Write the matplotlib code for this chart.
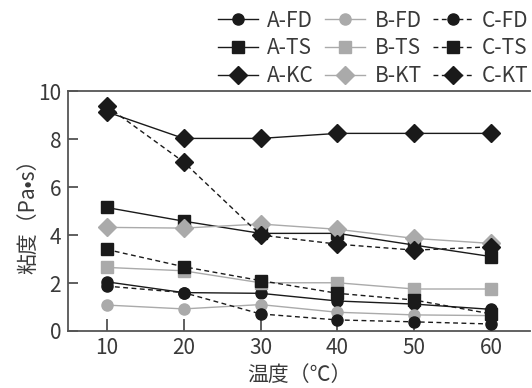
import matplotlib
matplotlib.use("Agg")
import matplotlib.pyplot as plt

plt.rcParams['font.family'] = ['Noto Sans CJK JP', 'DejaVu Sans']

temps = [10, 20, 30, 40, 50, 60]

A_FD = [2.05, 1.60, 1.57, 1.25, 1.12, 0.90]
B_FD = [1.08, 0.92, 1.10, 0.78, 0.67, 0.64]
C_FD = [1.87, 1.60, 0.71, 0.46, 0.38, 0.29]
A_TS = [5.15, 4.58, 4.07, 4.07, 3.58, 3.10]
B_TS = [2.65, 2.51, 2.01, 2.01, 1.75, 1.75]
C_TS = [3.40, 2.68, 2.10, 1.57, 1.29, 0.71]
A_KC = [9.14, 8.03, 8.03, 8.24, 8.24, 8.24]
B_KT = [4.32, 4.29, 4.46, 4.24, 3.86, 3.65]
C_KT = [9.38, 7.05, 4.00, 3.62, 3.37, 3.51]

yticks = [0, 2, 4, 6, 8, 10]
xticks = [10, 20, 30, 40, 50, 60]

BLACK = '#1a1a1a'
GRAY = '#aaaaaa'
TXT = '#3a3a3a'
DASH = (0, (3.5, 2.5))

fig = plt.figure(figsize=(5.32, 3.88), dpi=100)
ax = fig.add_axes([0.128, 0.147, 0.868, 0.618])

series = [
    ('A-FD', A_FD, BLACK, '-', 'o', 8),
    ('A-TS', A_TS, BLACK, '-', 's', 8),
    ('A-KC', A_KC, BLACK, '-', 'D', 9),
    ('B-FD', B_FD, GRAY, '-', 'o', 8),
    ('B-TS', B_TS, GRAY, '-', 's', 8),
    ('B-KT', B_KT, GRAY, '-', 'D', 9),
    ('C-FD', C_FD, BLACK, DASH, 'o', 8),
    ('C-TS', C_TS, BLACK, DASH, 's', 8),
    ('C-KT', C_KT, BLACK, DASH, 'D', 9),
]

handles = []
for name, vals, col, ls, mk, ms in series:
    h, = ax.plot(temps, vals, color=col, linestyle=ls, linewidth=1.0,
                 marker=mk, markersize=ms, markerfacecolor=col,
                 markeredgecolor=col, label=name, clip_on=False, zorder=3)
    handles.append(h)

ax.set_xlim(5, 65)
ax.set_ylim(0, 10)
ax.set_xticks(xticks)
ax.set_yticks(yticks)
ax.tick_params(axis='both', direction='in', labelsize=15, colors='#444444',
               length=7, width=1.2)
ax.tick_params(axis='x', length=9, pad=4)
ax.tick_params(axis='y', pad=5)
for t in ax.get_xticklabels() + ax.get_yticklabels():
    t.set_color(TXT)

ax.spines['right'].set_visible(False)
for s in ['left', 'bottom', 'top']:
    ax.spines[s].set_color('#555555')
    ax.spines[s].set_linewidth(1.3)

ax.set_xlabel('温度（℃）', fontsize=15, color=TXT)
ax.xaxis.set_label_coords(0.5, -0.185)
ax.xaxis.label.set_verticalalignment('center')
ax.set_ylabel('粘度（Pa•s）', fontsize=15, color=TXT)
ax.yaxis.set_label_coords(-0.087, 0.5)
ax.yaxis.label.set_verticalalignment('center')

leg = fig.legend(handles=handles, loc='upper right', ncol=3,
                 bbox_to_anchor=(1.017, 1.007), frameon=False, fontsize=15,
                 handlelength=1.9, handletextpad=0.45, columnspacing=0.55,
                 labelspacing=0.27, borderaxespad=0.2)
for t in leg.get_texts():
    t.set_color(TXT)

fig.savefig('out.png', dpi=100)
